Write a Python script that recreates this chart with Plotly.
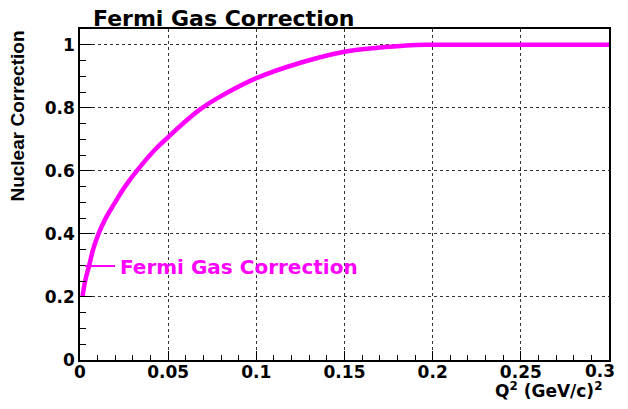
import plotly.graph_objects as go

q2 = [0.0014, 0.0029, 0.0052, 0.0074, 0.0105, 0.0146, 0.0199, 0.0255, 0.0322,
      0.0425, 0.05, 0.0586, 0.0681, 0.0775, 0.1, 0.125, 0.15, 0.168, 0.185,
      0.2, 0.25, 0.3]
correction = [0.2, 0.25, 0.3, 0.35, 0.4, 0.45, 0.5, 0.55, 0.6,
              0.667, 0.707, 0.751, 0.795, 0.829, 0.894, 0.943, 0.978, 0.990, 0.998,
              1.0, 1.0, 1.0]
x_ticks = [0, 0.05, 0.1, 0.15, 0.2, 0.25, 0.3]
x_tick_labels = ["0", "0.05", "0.1", "0.15", "0.2", "0.25", "0.3"]
series_name = "Fermi Gas Correction"
title_text = "Fermi Gas Correction"
x_title = "Q<sup>2</sup> (GeV/c)<sup>2</sup>"
y_title = "Nuclear Correction"

MAG = "#ff00ff"
FONT = "DejaVu Sans"
tick_font = dict(family=FONT, size=17, color="black", weight="bold")

fig = go.Figure()
fig.add_trace(go.Scatter(x=q2, y=correction, mode="lines",
                         line=dict(color=MAG, width=4.5, shape="spline", smoothing=1.2),
                         showlegend=False, hoverinfo="skip"))
fig.add_trace(go.Scatter(x=[None], y=[None], mode="lines", name=series_name,
                         line=dict(color=MAG, width=2), showlegend=True))

axis_common = dict(
    showline=True, linecolor="black", linewidth=1.5, mirror=True,
    showgrid=True, gridcolor="#333333", griddash="dot", gridwidth=1,
    zeroline=False, ticks="inside", tickcolor="black", tickwidth=1,
    tickfont=tick_font,
)

# last x tick label sits at the window edge; it is drawn as an annotation pulled inward
fig.update_xaxes(range=[0, 0.3], tickvals=x_ticks[:-1], ticktext=x_tick_labels[:-1], ticklen=9,
                 ticklabelstandoff=-4,
                 minor=dict(ticks="inside", dtick=0.01, ticklen=5, tickcolor="black", showgrid=False),
                 **axis_common)
fig.update_yaxes(range=[0, 1.05], dtick=0.2, tick0=0, ticklen=12,
                 minor=dict(ticks="inside", dtick=0.05, ticklen=6, tickcolor="black", showgrid=False),
                 **axis_common)
fig.add_annotation(text=x_tick_labels[-1], xref="x", yref="paper", x=x_ticks[-1], y=-0.032,
                   xanchor="right", yanchor="middle", xshift=8, showarrow=False, font=tick_font)

fig.add_annotation(text=title_text, xref="paper", yref="paper", x=0.0207, y=1.033,
                   xanchor="left", yanchor="middle", showarrow=False,
                   font=dict(family=FONT, size=22, color="black", weight="bold"))
fig.add_annotation(text=x_title, xref="paper", yref="paper", x=0.9906, y=-0.1239,
                   xanchor="right", yanchor="bottom", yshift=-2, showarrow=False,
                   font=dict(family=FONT, size=17, color="black", weight="bold"))
fig.add_annotation(text=y_title, xref="paper", yref="paper", x=-0.119, y=0.7356,
                   xanchor="center", yanchor="middle", showarrow=False, textangle=-90,
                   font=dict(family="Liberation Sans", size=19, color="black", weight="bold"))

# page body has an 8px margin; the figure is sized to fit the window without overflow
fig.update_layout(
    width=612, height=393,
    margin=dict(l=72, r=9, t=21, b=41),
    paper_bgcolor="white", plot_bgcolor="white",
    legend=dict(x=0.0, y=0.284, xanchor="left", yanchor="middle",
                bgcolor="rgba(0,0,0,0)", borderwidth=0,
                font=dict(family=FONT, size=20, color=MAG, weight="bold")),
)

fig.write_html("out.html")
